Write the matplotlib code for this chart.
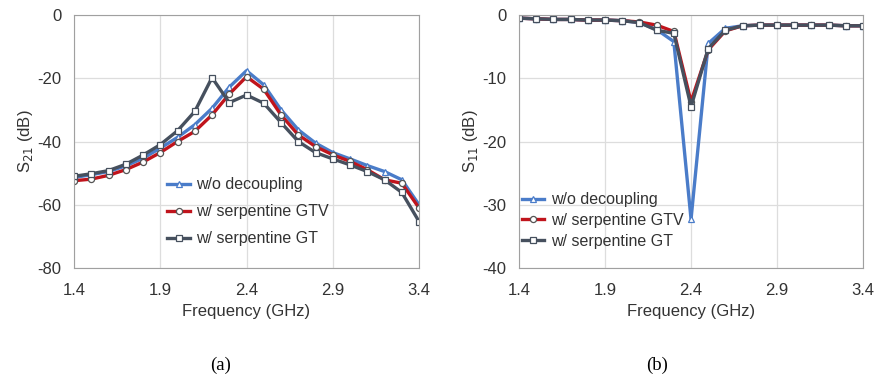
import matplotlib.pyplot as plt
import numpy as np

# ── Data ──────────────────────────────────────────────────────────────
FREQ = [1.4, 1.5, 1.6, 1.7, 1.8, 1.9, 2.0, 2.1, 2.2, 2.3, 2.4,
        2.5, 2.6, 2.7, 2.8, 2.9, 3.0, 3.1, 3.2, 3.3, 3.4]

S21_WO  = [-51.4, -50.5, -49.5, -47.7, -45.3, -42.1, -38.7, -34.7, -29.5, -22.8, -17.6,
           -22.1, -30.0, -36.3, -40.5, -43.5, -45.5, -47.6, -49.5, -52.1, -60.0]
S21_GTV = [-52.4, -51.9, -50.7, -48.9, -46.5, -43.5, -40.0, -36.8, -31.6, -25.0, -19.5,
           -23.5, -31.6, -37.9, -41.6, -44.2, -46.3, -48.9, -52.1, -53.2, -61.0]
S21_GT  = [-51.0, -50.2, -49.2, -47.2, -44.3, -41.0, -36.6, -30.5, -19.8, -27.7, -25.3,
           -27.9, -34.0, -40.0, -43.5, -45.5, -47.4, -49.5, -52.1, -56.1, -65.3]

S11_WO  = [-0.5, -0.6, -0.7, -0.7, -0.8, -0.8, -0.9, -1.2, -2.3, -4.2, -32.3,
           -4.5, -2.1, -1.7, -1.6, -1.6, -1.6, -1.6, -1.6, -1.7, -1.7]
S11_GTV = [-0.5, -0.6, -0.7, -0.7, -0.8, -0.8, -0.9, -1.1, -1.6, -2.6, -13.7,
           -5.5, -2.5, -1.7, -1.6, -1.6, -1.6, -1.6, -1.6, -1.7, -1.7]
S11_GT  = [-0.5, -0.6, -0.7, -0.7, -0.8, -0.8, -0.9, -1.2, -2.4, -2.9, -14.5,
           -5.3, -2.4, -1.7, -1.6, -1.6, -1.6, -1.6, -1.6, -1.7, -1.7]

LABELS = ["w/o decoupling", "w/ serpentine GTV", "w/ serpentine GT"]
XTICKS = [1.4, 1.9, 2.4, 2.9, 3.4]
# ─────────────────────────────────────────────────────────────────────

BLUE, RED, GRAY = "#4a7cc9", "#c0141c", "#46505e"
STYLES = [(BLUE, "^"), (RED, "o"), (GRAY, "s")]
TXT = "#333333"

plt.rcParams['font.family'] = ['Liberation Sans', 'DejaVu Sans']
plt.rcParams['axes.unicode_minus'] = False

fig = plt.figure(figsize=(8.77, 3.81), dpi=100)
ax1 = fig.add_axes([0.0844, 0.2966, 0.3934, 0.664])
ax2 = fig.add_axes([0.5918, 0.2966, 0.3923, 0.664])


def draw(ax, series, ylim, yticks, ylabel, leg_anchor, leg_spacing):
    for ys, (col, mk), lab in zip(series, STYLES, LABELS):
        ax.plot(FREQ, ys, color=col, lw=2.4, marker=mk, markersize=4.4,
                markerfacecolor="white", markeredgecolor=col if col != RED else "#555555",
                markeredgewidth=0.9, label=lab)
    ax.set_xlim(1.4, 3.4)
    ax.set_ylim(*ylim)
    ax.set_xticks(XTICKS)
    ax.set_xticklabels([f"{t:.1f}" for t in XTICKS])
    ax.set_yticks(yticks)
    ax.grid(True, color="#dddddd", lw=0.9)
    ax.set_axisbelow(True)
    for sp in ax.spines.values():
        sp.set_color("#a0a0a0")
    ax.tick_params(length=0, labelsize=12, colors=TXT)
    ax.tick_params(axis="x", pad=11)
    ax.tick_params(axis="y", pad=9)
    ax.set_xlabel("Frequency (GHz)", fontsize=12, color=TXT, labelpad=4)
    ax.set_ylabel(ylabel, fontsize=12, color=TXT, labelpad=2)
    leg = ax.legend(loc="upper left", bbox_to_anchor=leg_anchor, frameon=False,
                    fontsize=11.5, handlelength=1.4, handletextpad=0.4,
                    labelspacing=leg_spacing, borderaxespad=0)
    for t in leg.get_texts():
        t.set_color(TXT)


draw(ax1, [S21_WO, S21_GTV, S21_GT], (-80, 0), [-80, -60, -40, -20, 0],
     "S$_{21}$ (dB)", (0.252, 0.383), 0.75)
draw(ax2, [S11_WO, S11_GTV, S11_GT], (-40, 0), [-40, -30, -20, -10, 0],
     "S$_{11}$ (dB)", (-0.01, 0.324), 0.35)

fig.text(0.251, 0.028, "(a)", family="Liberation Serif", fontsize=13.5, ha="center")
fig.text(0.749, 0.028, "(b)", family="Liberation Serif", fontsize=13.5, ha="center")

fig.savefig("out.png", dpi=100)
